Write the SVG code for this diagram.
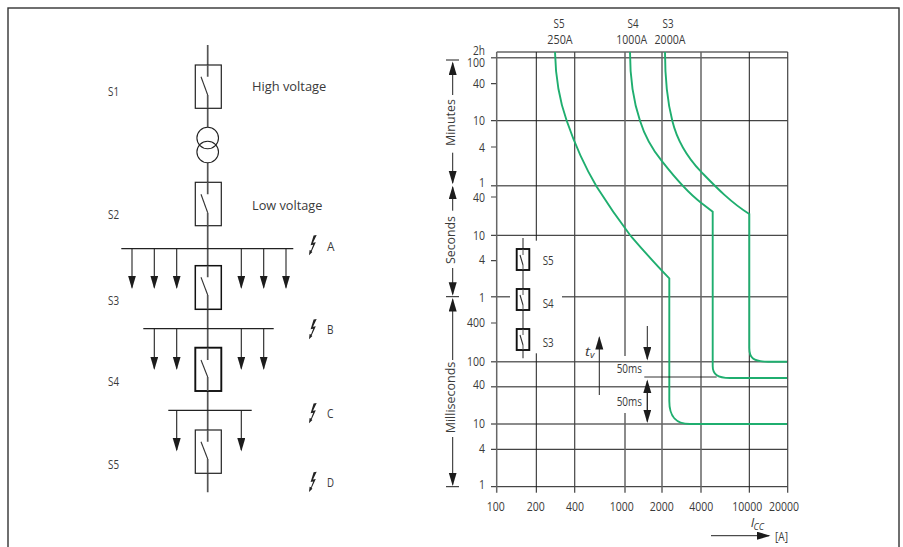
<svg xmlns="http://www.w3.org/2000/svg" width="903" height="547" viewBox="0 0 903 547">
<style>
text{font-family:"Open Sans","Noto Sans","Liberation Sans",sans-serif;font-size:12.5px;fill:#3a3a3a}
.m{text-anchor:middle}.e{text-anchor:end}
.i{font-style:italic}
.box{fill:#fff;stroke:#222;stroke-width:1.2}
.box2{fill:#fff;stroke:#111;stroke-width:1.9}
.trunk{fill:none;stroke:#555;stroke-width:1.7}
.bus{fill:none;stroke:#222;stroke-width:1.3}
.drop{fill:none;stroke:#222;stroke-width:1.1;marker-end:url(#h)}
.blade{fill:none;stroke:#333;stroke-width:1.1}
.dk{fill:none;stroke:#1c1c1c;stroke-width:1}
.md{fill:none;stroke:#444;stroke-width:1.2}
.gr{fill:none;stroke:#666;stroke-width:1.5}
.curve{fill:none;stroke:#1fae6f;stroke-width:1.9}
.arr{fill:none;stroke:#222;stroke-width:1;marker-end:url(#h)}
.bolt{fill:#222}
</style>
<defs>
<marker id="h" markerUnits="userSpaceOnUse" markerWidth="15" markerHeight="9" refX="12" refY="4" orient="auto"><path d="M0 0L13.5 4L0 8Z" fill="#1c1c1c"/></marker>
<path id="bolt" class="bolt" d="M7.7 0L4.6 .6L1.6 10.2L4.2 9.7L2 15.6L.6 15L0 20.2L3.4 17L2.6 16.4L6.8 7.3L4 7.8Z"/>
</defs>
<rect id="frame" x="8" y="8" width="891" height="560" fill="#fff" stroke="#333" stroke-width="1.4"/>

<g id="connectors">
<path class="trunk" d="M207.7 45V76.7M207.7 95V127M207.7 163V194.3M207.7 212.7V277.3M207.7 295V360M207.7 377V441.7M207.7 459V492.3"/>
<path class="bus" d="M121.3 248.7H293.3M143.3 328.7H273.7M168.3 410.3H251.7"/>
<path class="drop" d="M132 248.7V287.5"/><path class="drop" d="M154.3 248.7V287.5"/><path class="drop" d="M176.7 248.7V287.5"/><path class="drop" d="M241.3 248.7V287.5"/><path class="drop" d="M263.7 248.7V287.5"/><path class="drop" d="M286 248.7V287.5"/>
<path class="drop" d="M154.3 328.7V368.5"/><path class="drop" d="M176.7 328.7V368.5"/><path class="drop" d="M241.3 328.7V368.5"/><path class="drop" d="M263.7 328.7V368.5"/>
<path class="drop" d="M176.7 410.3V450"/><path class="drop" d="M241.3 410.3V450"/>
</g>

<g id="S1"><rect class="box" x="195.3" y="65" width="26" height="43.3"/><path class="trunk" d="M207.7 65V76.7M207.7 95V108"/><path class="blade" d="M201 76.7L207.7 95"/><text x="108" y="95.5" textLength="11" lengthAdjust="spacingAndGlyphs">S1</text></g>
<g id="transformer"><circle cx="207.7" cy="138" r="10.8" fill="none" stroke="#222" stroke-width="1.1"/><circle cx="207.7" cy="152" r="10.8" fill="none" stroke="#222" stroke-width="1.1"/></g>
<g id="S2"><rect class="box" x="195.3" y="182.3" width="26" height="43.4"/><path class="trunk" d="M207.7 182.3V194.3M207.7 212.7V225.7"/><path class="blade" d="M201 194.3L207.7 212.7"/><text x="108" y="219" textLength="11" lengthAdjust="spacingAndGlyphs">S2</text></g>
<g id="S3"><rect class="box2" x="195.3" y="265.7" width="26" height="43.6" style="stroke-width:1.5"/><path class="trunk" d="M207.7 265.7V277.3M207.7 295V309.3"/><path class="blade" d="M201 277.3L207.7 295"/><text x="108" y="305" textLength="11" lengthAdjust="spacingAndGlyphs">S3</text></g>
<g id="S4"><rect class="box2" x="195.3" y="347.7" width="26" height="43.3"/><path class="trunk" d="M207.7 347.7V360M207.7 377V391"/><path class="blade" d="M201 360L207.7 377"/><text x="108" y="386" textLength="11" lengthAdjust="spacingAndGlyphs">S4</text></g>
<g id="S5"><rect class="box" x="195.3" y="430" width="26" height="43.3"/><path class="trunk" d="M207.7 430V441.7M207.7 459V473.3"/><path class="blade" d="M201 441.7L207.7 459"/><text x="108" y="469" textLength="11" lengthAdjust="spacingAndGlyphs">S5</text></g>
<g id="voltage-labels"><text x="252" y="91" textLength="74.3" lengthAdjust="spacingAndGlyphs">High voltage</text><text x="252" y="210" textLength="70.3" lengthAdjust="spacingAndGlyphs">Low voltage</text></g>
<g id="fault-A"><use href="#bolt" x="309" y="235"/><text x="327" y="250.7" textLength="7.5" lengthAdjust="spacingAndGlyphs">A</text></g>
<g id="fault-B"><use href="#bolt" x="309" y="319"/><text x="327" y="334" textLength="6.5" lengthAdjust="spacingAndGlyphs">B</text></g>
<g id="fault-C"><use href="#bolt" x="309" y="403"/><text x="327" y="417.7" textLength="6.5" lengthAdjust="spacingAndGlyphs">C</text></g>
<g id="fault-D"><use href="#bolt" x="309" y="471.7"/><text x="327" y="486.7" textLength="7" lengthAdjust="spacingAndGlyphs">D</text></g>

<g id="grid">
<path class="gr" d="M496.7 52H787.7M491 57.7H787.7M491 185.7H787.7M562 296.7H787.7M491 296.7H510M491 361.7H787.7M491 386.7H787.7M491 424H787.7"/>
<path class="md" d="M491 83.7H497M491 120.7H787.7M491 147H497M491 197H497M491 260.7H497M491 323H497M491 449.3H787.7"/>
<path class="dk" d="M491 235.3H787.7M491 486.7H787.7"/>
<path class="gr" d="M496.7 52V492.7M625 52V356M625 413V492.7M662 52V492.7M701 52V492.7"/>
<path class="md" d="M574.7 52V492.7M787.7 52V492.7"/>
<path class="dk" d="M536.3 52V240.7M536.3 353.3V492.7M749.3 52V492.7"/>
</g>
<g id="curves">
<path class="curve" d="M555 52C555.5 75 560 102 566.7 120.7C574 142 585 167 596.7 186.7C607 203 618 219 630 235C643 250 655 264 669.3 278.3V401C669.3 416 675 424 690 424H787"/>
<path class="curve" d="M630 52C630 80 634 103 640 120.7C645 137 652 149 662.3 161.7C672 174 688 193 701 202.7L712.7 211.7V366C712.7 374 717 378 730 378H787"/>
<path class="curve" d="M665 52C665 75 667 100 672.3 120.7C677 140 688 158 701 171.7C714 185 730 202 749.3 214V348C749.3 358 753 361.7 768 361.7H787"/>
</g>
<g id="curve-labels">
<text class="m" x="559" y="28" textLength="11" lengthAdjust="spacingAndGlyphs">S5</text><text class="m" x="560" y="44" textLength="25.3" lengthAdjust="spacingAndGlyphs">250A</text>
<text class="m" x="633" y="28" textLength="11" lengthAdjust="spacingAndGlyphs">S4</text><text class="m" x="631.7" y="44" textLength="30.7" lengthAdjust="spacingAndGlyphs">1000A</text>
<text class="m" x="668" y="28" textLength="11" lengthAdjust="spacingAndGlyphs">S3</text><text class="m" x="670" y="44" textLength="31" lengthAdjust="spacingAndGlyphs">2000A</text>
</g>
<g id="y-labels">
<text class="e" x="485" y="54.5" textLength="12" lengthAdjust="spacingAndGlyphs">2h</text><text class="e" x="485" y="66.7" textLength="18" lengthAdjust="spacingAndGlyphs">100</text><text class="e" x="485" y="88" textLength="12" lengthAdjust="spacingAndGlyphs">40</text><text class="e" x="485" y="125" textLength="12" lengthAdjust="spacingAndGlyphs">10</text><text class="e" x="485" y="151.7" textLength="6" lengthAdjust="spacingAndGlyphs">4</text><text class="e" x="485" y="187.3" textLength="6" lengthAdjust="spacingAndGlyphs">1</text><text class="e" x="485" y="201.7" textLength="12" lengthAdjust="spacingAndGlyphs">40</text><text class="e" x="485" y="240" textLength="12" lengthAdjust="spacingAndGlyphs">10</text><text class="e" x="485" y="264" textLength="6" lengthAdjust="spacingAndGlyphs">4</text><text class="e" x="485" y="302" textLength="6" lengthAdjust="spacingAndGlyphs">1</text><text class="e" x="485" y="326.7" textLength="18" lengthAdjust="spacingAndGlyphs">400</text><text class="e" x="485" y="366" textLength="18" lengthAdjust="spacingAndGlyphs">100</text><text class="e" x="485" y="389.3" textLength="12" lengthAdjust="spacingAndGlyphs">40</text><text class="e" x="485" y="428" textLength="12" lengthAdjust="spacingAndGlyphs">10</text><text class="e" x="485" y="453" textLength="6" lengthAdjust="spacingAndGlyphs">4</text><text class="e" x="485" y="489.3" textLength="6" lengthAdjust="spacingAndGlyphs">1</text>
</g>
<g id="x-labels">
<text class="m" x="495.7" y="510.7" textLength="18" lengthAdjust="spacingAndGlyphs">100</text><text class="m" x="535.7" y="510.7" textLength="18" lengthAdjust="spacingAndGlyphs">200</text><text class="m" x="575" y="510.7" textLength="18" lengthAdjust="spacingAndGlyphs">400</text><text class="m" x="621.7" y="510.7" textLength="24" lengthAdjust="spacingAndGlyphs">1000</text><text class="m" x="661.7" y="510.7" textLength="24" lengthAdjust="spacingAndGlyphs">2000</text><text class="m" x="701.3" y="510.7" textLength="24" lengthAdjust="spacingAndGlyphs">4000</text><text class="m" x="747.3" y="510.7" textLength="30" lengthAdjust="spacingAndGlyphs">10000</text><text class="m" x="784" y="510.7" textLength="30" lengthAdjust="spacingAndGlyphs">20000</text>
</g>
<g id="time-axis">
<path class="dk" d="M446 60H459M446 296.7H459M446 486.7H459"/>
<path class="arr" d="M452.7 95V63"/><path class="arr" d="M452.7 152.7V182.8"/><path class="arr" d="M452.7 210.7V187.2"/><path class="arr" d="M452.7 268V294.2"/><path class="arr" d="M452.7 360V299.5"/><path class="arr" d="M452.7 437V484.5"/>
<text class="m" transform="translate(455 122.5) rotate(-90)" textLength="47" lengthAdjust="spacingAndGlyphs">Minutes</text>
<text class="m" transform="translate(455 240) rotate(-90)" textLength="48" lengthAdjust="spacingAndGlyphs">Seconds</text>
<text class="m" transform="translate(455 397.5) rotate(-90)" textLength="71.6" lengthAdjust="spacingAndGlyphs">Milliseconds</text>
</g>
<g id="mini-switches">
<path class="trunk" d="M523 238V358.3" style="stroke-width:1.3"/>
<rect class="box2" x="516.7" y="249" width="12.6" height="21"/><rect class="box2" x="516.7" y="289" width="12.6" height="21"/><rect class="box2" x="516.7" y="329" width="12.6" height="21"/>
<path class="trunk" d="M523 249V255M523 265V270M523 289V295M523 305V310M523 329V335M523 345V350" style="stroke-width:1"/>
<path class="blade" d="M520 255L523 265M520 295L523 305M520 335L523 345"/>
<text x="542.7" y="265" textLength="11" lengthAdjust="spacingAndGlyphs">S5</text><text x="542.7" y="307.7" textLength="11" lengthAdjust="spacingAndGlyphs">S4</text><text x="542.7" y="346.7" textLength="11" lengthAdjust="spacingAndGlyphs">S3</text>
</g>
<g id="tv-arrow">
<path class="arr" d="M599.3 395V337.5"/>
<text class="i" x="585" y="356" textLength="5" lengthAdjust="spacingAndGlyphs">t</text><text class="i" x="590" y="358" style="font-size:8.5px" textLength="4.5" lengthAdjust="spacingAndGlyphs">v</text>
</g>
<g id="delay-arrows">
<path class="dk" d="M644.3 377H716.7" style="stroke-width:.9"/>
<path class="arr" d="M647.3 326V359"/><path class="arr" d="M647.3 410V381"/><path class="arr" d="M647.3 392V421.5"/>
<text x="616.7" y="373.3" textLength="25.3" lengthAdjust="spacingAndGlyphs">50ms</text><text x="616.7" y="405.7" textLength="25.3" lengthAdjust="spacingAndGlyphs">50ms</text>
</g>
<g id="current-axis">
<path class="arr" d="M711 535.7H769"/>
<text class="i" x="750.7" y="527" style="font-size:13px" textLength="3.5" lengthAdjust="spacingAndGlyphs">I</text><text class="i" x="753.5" y="529.5" style="font-size:9.5px" textLength="10.5" lengthAdjust="spacingAndGlyphs">CC</text>
<text x="775" y="540.7" textLength="13" lengthAdjust="spacingAndGlyphs">[A]</text>
</g>
</svg>
